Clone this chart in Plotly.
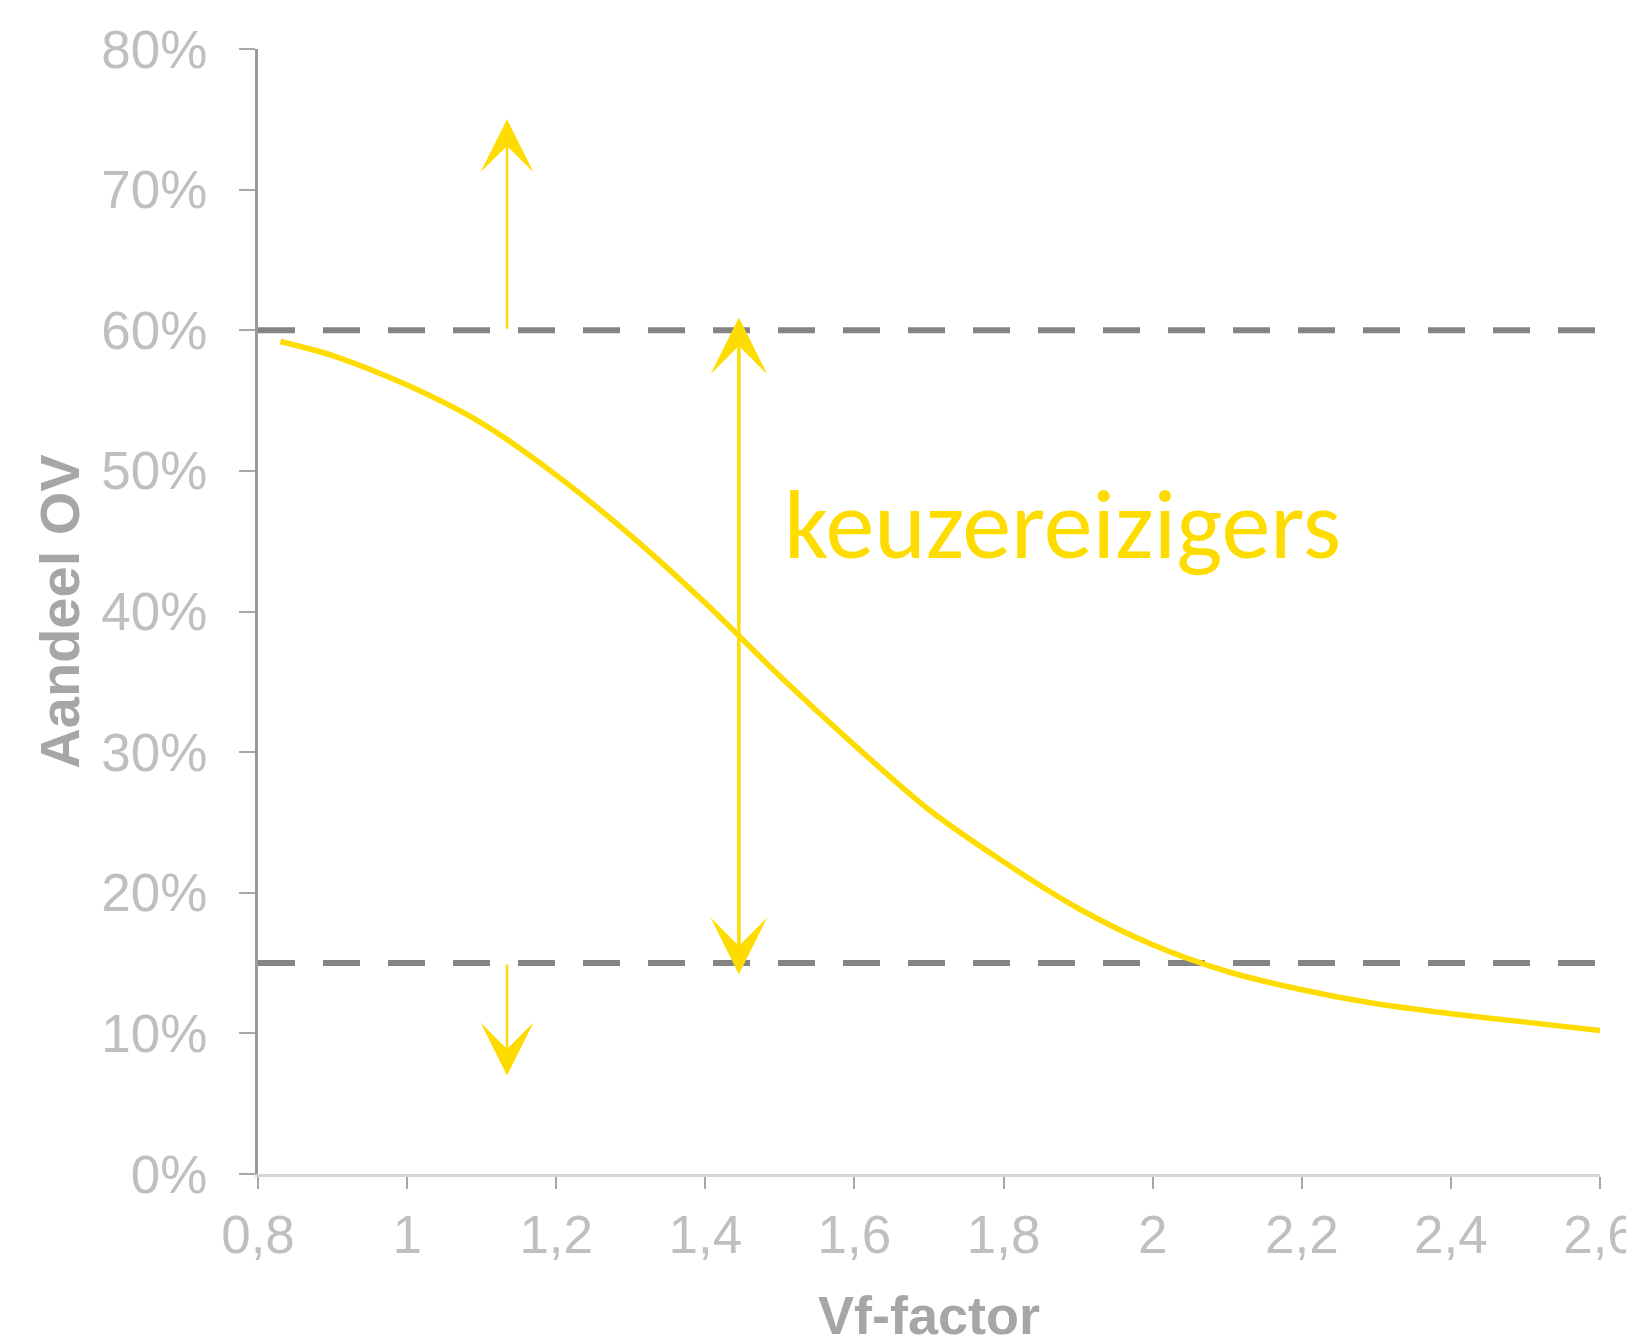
import plotly.graph_objects as go

# ---- data ----
vf_factor = [0.83, 0.9, 1.0, 1.1, 1.2, 1.3, 1.4, 1.5, 1.6, 1.7, 1.8, 1.9, 2.0,
             2.1, 2.2, 2.3, 2.4, 2.5, 2.6]
aandeel_ov = [59.2, 58.2, 56.1, 53.4, 49.7, 45.4, 40.6, 35.4, 30.5, 25.9, 22.2,
              18.9, 16.3, 14.4, 13.1, 12.1, 11.4, 10.8, 10.2]
threshold_levels = [60, 15]
x_ticks = [0.8, 1.0, 1.2, 1.4, 1.6, 1.8, 2.0, 2.2, 2.4, 2.6]
x_tick_labels = ["0,8", "1", "1,2", "1,4", "1,6", "1,8", "2", "2,2", "2,4", "2,6"]
y_ticks = [0, 10, 20, 30, 40, 50, 60, 70, 80]
y_tick_labels = ["0%", "10%", "20%", "30%", "40%", "50%", "60%", "70%", "80%"]
label_text = "keuzereizigers"
x_title = "Vf-factor"
y_title = "Aandeel OV"

YELLOW = "#FFDC00"
GREY_DASH = "#848484"
TITLE_GREY = "#A6A6A6"

fig = go.Figure()

for lvl in threshold_levels:
    fig.add_trace(go.Scatter(
        x=[x_ticks[0], x_ticks[-1]], y=[lvl, lvl], mode="lines",
        line=dict(color=GREY_DASH, width=6, dash="37px,28px"),
        hoverinfo="skip", showlegend=False))

fig.add_trace(go.Scatter(
    x=vf_factor, y=aandeel_ov, mode="lines",
    line=dict(color=YELLOW, width=5.5, shape="spline", smoothing=0.8),
    showlegend=False))

arrow_x_outer = 1.134
arrow_x_band = 1.445

annotations = [
    # up arrow above 60%
    dict(x=arrow_x_outer, y=75.0, ax=arrow_x_outer, ay=threshold_levels[0],
         xref="x", yref="y", axref="x", ayref="y", text="", showarrow=True,
         arrowhead=3, arrowsize=3.7, arrowwidth=2.4, arrowcolor=YELLOW),
    # down arrow below 15%
    dict(x=arrow_x_outer, y=7.0, ax=arrow_x_outer, ay=threshold_levels[1],
         xref="x", yref="y", axref="x", ayref="y", text="", showarrow=True,
         arrowhead=3, arrowsize=3.7, arrowwidth=2.4, arrowcolor=YELLOW),
    # double arrow between 15% and 60%
    dict(x=arrow_x_band, y=60.9, ax=arrow_x_band, ay=14.1,
         xref="x", yref="y", axref="x", ayref="y", text="", showarrow=True,
         arrowhead=3, startarrowhead=3, arrowside="end+start",
         arrowsize=2.7, startarrowsize=2.7, arrowwidth=3.5, arrowcolor=YELLOW),
    dict(x=1.503, y=46.2, xref="x", yref="y", text=label_text, showarrow=False,
         xanchor="left", yanchor="middle",
         font=dict(family="Carlito, Lato, Open Sans", size=98, color=YELLOW)),
    # x-axis title
    dict(x=0.5, y=0, xref="paper", yref="paper", text="<b>" + x_title + "</b>",
         showarrow=False, xanchor="center", yanchor="middle", yshift=-141,
         font=dict(family="Liberation Sans, Arial", size=54, color=TITLE_GREY)),
]

fig.update_layout(
    width=1626, height=1328,
    margin=dict(l=250, r=34, t=41, b=162, autoexpand=False),
    paper_bgcolor="white", plot_bgcolor="white",
    annotations=annotations,
    showlegend=False,
    xaxis=dict(
        range=[0.8, 2.6], tickvals=x_ticks, ticktext=x_tick_labels,
        showgrid=False, zeroline=False, showline=True,
        linecolor="#D6D6D6", linewidth=3,
        ticks="outside", ticklen=12, tickwidth=2, tickcolor="#A8A8A8",
        tickfont=dict(family="Liberation Sans, Arial", size=53, color="#BFBFBF"),
        ticklabelstandoff=0, ticklabeloverflow="allow",
        automargin=False,
    ),
    yaxis=dict(
        range=[0, 80], tickvals=y_ticks, ticktext=y_tick_labels,
        showgrid=False, zeroline=False, showline=True,
        linecolor="#9A9A9A", linewidth=3,
        ticks="outside", ticklen=16, tickwidth=2, tickcolor="#A8A8A8",
        tickfont=dict(family="Liberation Sans, Arial", size=53, color="#BFBFBF"),
        ticklabelstandoff=21, ticklabeloverflow="allow",
        title=dict(text="<b>" + y_title + "</b>", standoff=4,
                   font=dict(family="Liberation Sans, Arial", size=56, color=TITLE_GREY)),
        automargin=False,
    ),
)

fig.write_html("out.html")
